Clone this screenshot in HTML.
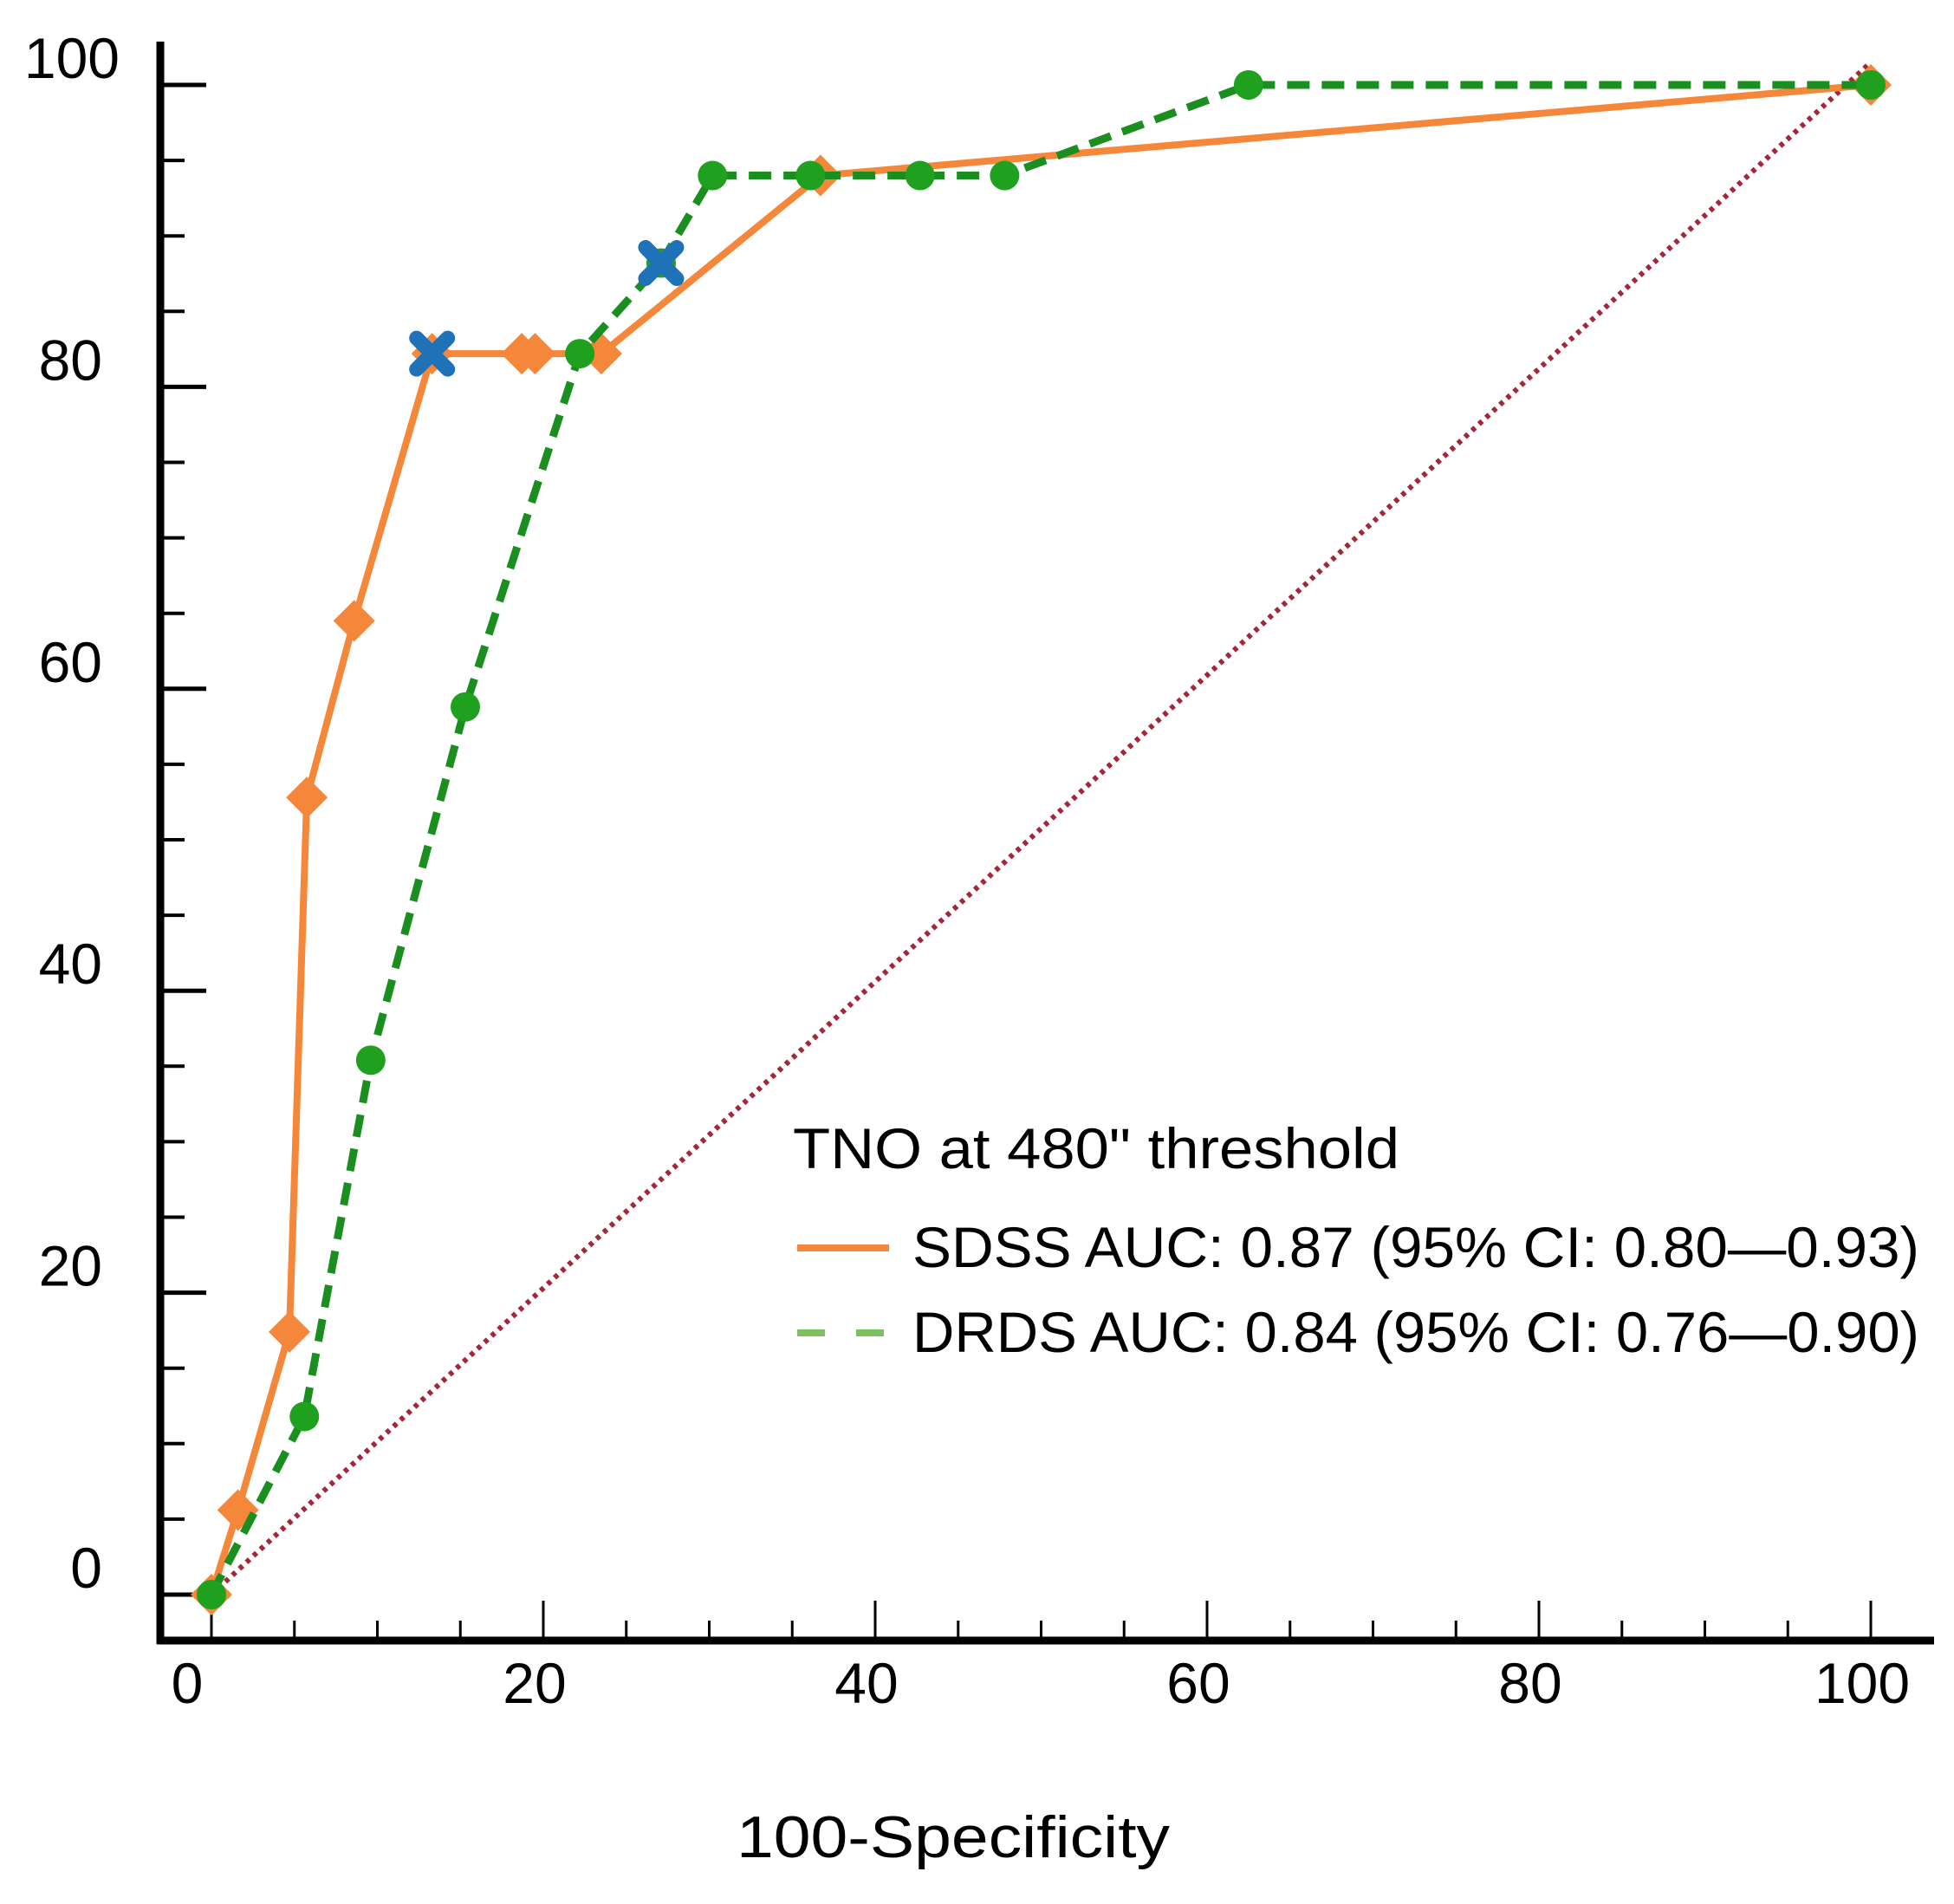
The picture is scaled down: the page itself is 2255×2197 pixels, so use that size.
<!DOCTYPE html>
<html><head><meta charset="utf-8"><style>
html,body{margin:0;padding:0;background:#fff;}
svg{display:block;font-family:"Liberation Sans",sans-serif;}
</style></head><body>
<svg id="chart" width="2255" height="2197" viewBox="0 0 2255 2197" xmlns="http://www.w3.org/2000/svg">
<g id="axes"></g>
<line id="diag" stroke="#a3263a" stroke-width="6" stroke-dasharray="5,6"/>
<g id="series"></g>
<g>
<text x="915" y="1348" font-size="66" textLength="700" lengthAdjust="spacingAndGlyphs">TNO at 480" threshold</text>
<line x1="920" y1="1440" x2="1026" y2="1440" stroke="#f5873a" stroke-width="8"/>
<text x="1053" y="1462" font-size="66" textLength="1162" lengthAdjust="spacingAndGlyphs">SDSS AUC: 0.87 (95% CI: 0.80—0.93)</text>
<line x1="920" y1="1538" x2="1022" y2="1538" stroke="#7cc060" stroke-width="8" stroke-dasharray="32,36"/>
<text x="1053" y="1560" font-size="66" textLength="1162" lengthAdjust="spacingAndGlyphs">DRDS AUC: 0.84 (95% CI: 0.76—0.90)</text>
</g>
<text x="1100" y="2143" font-size="68" text-anchor="middle" textLength="500" lengthAdjust="spacingAndGlyphs">100-Specificity</text>
</svg>
<script>
const xTicks=[0,20,40,60,80,100];
const yTicks=[0,20,40,60,80,100];
const sdssX=[0,1.6,4.7,5.75,8.6,13.3,18.7,19.5,23.5,36.7,100];
const sdssY=[0,5.6,17.4,52.8,64.5,82.2,82.2,82.2,82.2,94,100];
const drdsX=[0,5.6,9.6,15.3,22.2,27.1,30.2,36.1,42.7,47.8,62.5,100];
const drdsY=[0,11.8,35.4,58.8,82.2,88.2,94,94,94,94,100,100];
const optX=[13.3,27.1];
const optY=[82.2,88.2];
const NS="http://www.w3.org/2000/svg";
const X=v=>244+19.15*v, Y=v=>1840-17.42*v;
function mk(t,a,p){const e=document.createElementNS(NS,t);for(const k in a)e.setAttribute(k,a[k]);p.appendChild(e);return e;}
const ax=document.getElementById('axes');
let e=mk('line',{x1:185,y1:48,x2:185,y2:1897,stroke:'#000','stroke-width':9},ax);


e=mk('line',{x1:181,y1:1893,x2:2232,y2:1893,stroke:'#000','stroke-width':9},ax);


for(let v=0;v<=100;v+=5){
  const maj=v%20===0;
  e=mk('line',{x1:185,y1:Y(v),x2:maj?238:213,y2:Y(v),stroke:'#000','stroke-width':maj?5:4},ax);
  
  
  e=mk('line',{x1:X(v),y1:1893,x2:X(v),y2:maj?1847:1870,stroke:'#000','stroke-width':3},ax);
  
  
}
yTicks.forEach(v=>{const t=mk('text',{x:v===100?138:118,y:Y(v)-8,'font-size':66,'text-anchor':'end'},ax);t.textContent=v;
  
  });
xTicks.forEach(v=>{const t=mk('text',{x:X(v)-(v===0?28:10),y:1965,'font-size':66,'text-anchor':'middle'},ax);t.textContent=v;
  
  });
const d=document.getElementById('diag');
d.setAttribute('x1',X(0));d.setAttribute('y1',Y(0));d.setAttribute('x2',X(100));d.setAttribute('y2',Y(101.5));
const s=document.getElementById('series');
const pts=(xs,ys)=>xs.map((x,i)=>X(x)+','+Y(ys[i])).join(' ');
e=mk('polyline',{points:pts(sdssX,sdssY),fill:'none',stroke:'#f5873a','stroke-width':8,'stroke-linejoin':'round'},s);


sdssX.forEach((x,i)=>{const cx=X(x),cy=Y(sdssY[i]),r=24;
  const p=mk('polygon',{points:`${cx},${cy-r} ${cx+r},${cy} ${cx},${cy+r} ${cx-r},${cy}`,fill:'#f5873a'},s);
  
  });
e=mk('polyline',{points:pts(drdsX,drdsY),fill:'none',stroke:'#1a8f1f','stroke-width':9,'stroke-dasharray':'26,14'},s);


drdsX.forEach((x,i)=>{const c=mk('circle',{cx:X(x),cy:Y(drdsY[i]),r:17,fill:'#1fa01f'},s);
  
  });
optX.forEach((x,i)=>{const cx=X(x),cy=Y(optY[i]),r=18;
  const p=mk('path',{d:`M${cx-r},${cy-r}L${cx+r},${cy+r}M${cx+r},${cy-r}L${cx-r},${cy+r}`,stroke:'#1f72b8','stroke-width':17,'stroke-linecap':'round'},s);
  
  });
</script>
</body></html>
